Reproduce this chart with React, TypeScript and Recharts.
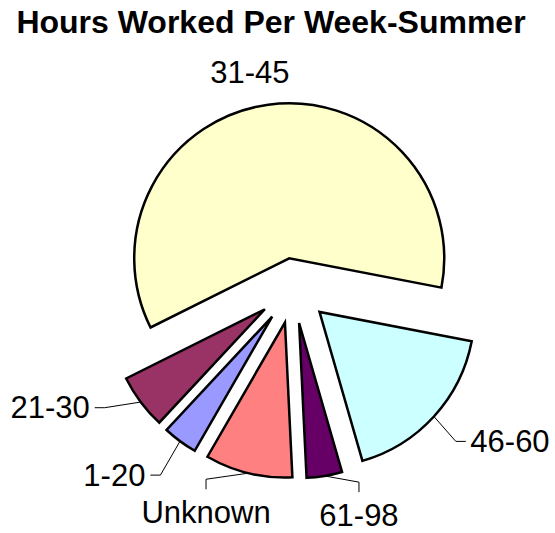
import React from 'react';
import { PieChart, Pie, Cell } from 'recharts';

// ---- data ----
const categories = ['1-20', '21-30', '31-45', '46-60', '61-98', 'Unknown'];
const shares = [3.6, 5.7, 60.4, 17.5, 3.7, 9.1];
const chartTitle = 'Hours Worked Per Week-Summer';

// ---- styles / layout ----
const COLORS: Record<string, string> = {
  '1-20': '#9999FF',
  '21-30': '#993366',
  '31-45': '#FFFFCC',
  '46-60': '#CCFFFF',
  '61-98': '#660066',
  Unknown: '#FF8080',
};

// label placement relative to each slice: side, distance from slice apex, turn (clockwise degrees) from mid angle
const LABEL_LAYOUT: Record<string, { side: string; dist: number; turn: number }> = {
  '1-20': { side: 'left', dist: 194, turn: -1.3 },
  '21-30': { side: 'left', dist: 188, turn: 5.2 },
  '31-45': { side: 'above', dist: 180, turn: -4.8 },
  '46-60': { side: 'right', dist: 188, turn: 1.1 },
  '61-98': { side: 'below', dist: 170, turn: -11.2 },
  Unknown: { side: 'below', dist: 175.5, turn: 13.1 },
};

const W = 555;
const H = 533;
const CX = 293.3;
const CY = 288;
const R = 155;
const START = -120;
const END = -480;
const EXPLODE_MAIN = 30;
const EXPLODE = 35.5;
const FONT = '"Liberation Sans", Arial, Helvetica, sans-serif';
const RAD = Math.PI / 180;

const data = categories.map((name, i) => ({ name, value: shares[i] }));
const total = shares.reduce((a, b) => a + b, 0);
const midAngles = shares.map((v, i) => {
  const before = shares.slice(0, i).reduce((a, b) => a + b, 0);
  return START + ((END - START) * (before + v / 2)) / total;
});
const maxIdx = shares.indexOf(Math.max(...shares));

const makeLabel = (idx: number) => (props: any) => {
  if (props.index !== idx) return null;
  const { cx, cy, midAngle, outerRadius, name } = props;
  const lay = LABEL_LAYOUT[name];
  const ax = cx + outerRadius * Math.cos(midAngle * RAD);
  const ay = cy - outerRadius * Math.sin(midAngle * RAD);
  const la = midAngle - lay.turn;
  const ex = cx + lay.dist * Math.cos(la * RAD);
  const ey = cy - lay.dist * Math.sin(la * RAD);
  const textProps = {
    fontFamily: FONT,
    fontSize: 31,
    fill: '#000',
  };
  if (lay.side === 'above') {
    return (
      <text x={ex} y={ey} textAnchor="middle" {...textProps}>
        {name}
      </text>
    );
  }
  if (lay.side === 'right') {
    return (
      <g>
        <polyline
          points={`${ax},${ay} ${ex},${ey} ${ex + 10},${ey}`}
          fill="none"
          stroke="#000"
          strokeWidth={1}
        />
        <text x={ex + 14.5} y={ey + 10.5} textAnchor="start" {...textProps}>
          {name}
        </text>
      </g>
    );
  }
  if (lay.side === 'left') {
    return (
      <g>
        <polyline
          points={`${ax},${ay} ${ex},${ey} ${ex - 10},${ey}`}
          fill="none"
          stroke="#000"
          strokeWidth={1}
        />
        <text x={ex - 15} y={ey + 10.5} textAnchor="end" {...textProps}>
          {name}
        </text>
      </g>
    );
  }
  return (
    <g>
      <polyline
        points={`${ax},${ay} ${ex},${ey} ${ex},${ey + 10}`}
        fill="none"
        stroke="#000"
        strokeWidth={1}
      />
      <text x={ex} y={ey + 43.5} textAnchor="middle" {...textProps}>
        {name}
      </text>
    </g>
  );
};

export default function App() {
  return (
    <div style={{ width: W, height: H, overflow: 'hidden' }}>
      <style>{'html,body{margin:0;padding:0;overflow:hidden;background:#fff;}'}</style>
      <PieChart width={W} height={H} margin={{ top: 0, right: 0, bottom: 0, left: 0 }}>
        <text
          x={271}
          y={33}
          textAnchor="middle"
          fontFamily={FONT}
          fontSize={32}
          fontWeight="bold"
          fill="#000"
        >
          {chartTitle}
        </text>
        {categories.map((cat, i) => {
          const e = i === maxIdx ? EXPLODE_MAIN : EXPLODE;
          const cx = CX + e * Math.cos(midAngles[i] * RAD);
          const cy = CY - e * Math.sin(midAngles[i] * RAD);
          return (
            <Pie
              key={cat}
              data={data}
              dataKey="value"
              nameKey="name"
              cx={cx}
              cy={cy}
              innerRadius={0}
              outerRadius={R}
              startAngle={START}
              endAngle={END}
              isAnimationActive={false}
              labelLine={false}
              label={makeLabel(i)}
            >
              {data.map((d, j) => (
                <Cell
                  key={d.name}
                  fill={j === i ? COLORS[d.name] : 'none'}
                  stroke={j === i ? '#000' : 'none'}
                  strokeWidth={j === i ? 2.5 : 0}
                />
              ))}
            </Pie>
          );
        })}
      </PieChart>
    </div>
  );
}
